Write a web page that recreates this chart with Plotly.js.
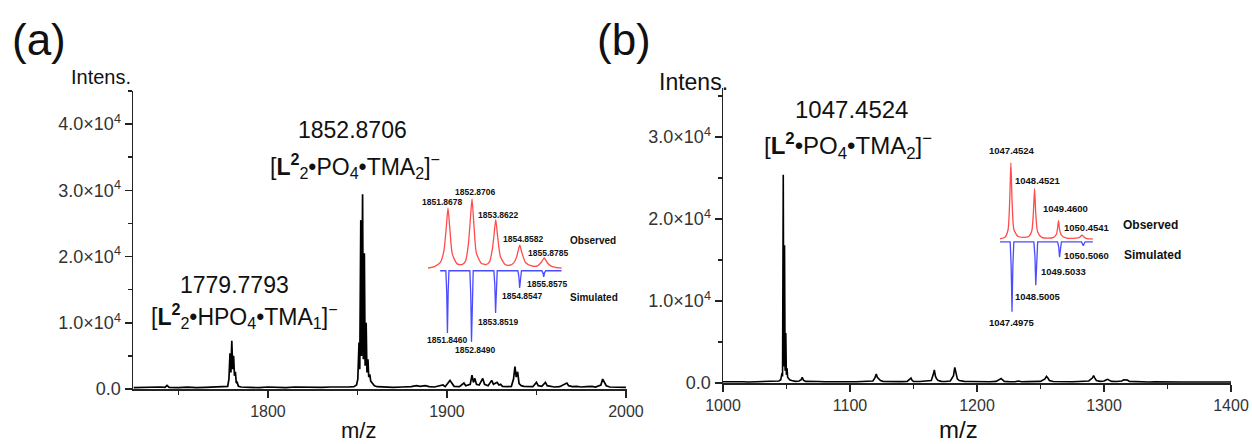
<!DOCTYPE html>
<html>
<head>
<meta charset="utf-8">
<script src="https://cdn.plot.ly/plotly-3.0.1.min.js"></script>
<style>html,body{margin:0;padding:0;background:#fff;}#chart{width:1252px;height:444px;}</style>
</head>
<body>
<div id="chart"></div>
<script>
// ---------- DATA ----------
// Panel (a) full spectrum (m/z, intensity)
const specA_mz = [1725,1730,1735,1740,1742.5,1743.6,1744.8,1750,1755,1760,1765,1770,1775,1777.5,1778.2,1778.8,1779.3,1779.8,1780.3,1780.8,1781.3,1781.8,1782.3,1782.8,1783.5,1785,1790,1795,1800,1805,1810,1815,1820,1825,1830,1835,1840,1845,1848,1849.5,1850.2,1850.87,1851.3,1851.87,1852.3,1852.87,1853.3,1853.86,1854.3,1854.86,1855.3,1855.88,1856.3,1856.9,1857.4,1857.9,1858.5,1859.5,1861,1865,1870,1875,1880,1883,1885,1888,1890,1893,1897.8,1899,1900.7,1901.7,1902.7,1904,1907,1909.5,1910.5,1913,1914,1914.8,1915.6,1916.5,1918,1920,1921,1923,1925,1926,1928,1929,1930,1931,1934,1936,1937.2,1938,1938.7,1939.5,1940.3,1941.5,1943,1945,1948,1950,1951,1953,1955,1956,1958,1960,1963,1967,1968,1970,1972.6,1975,1978,1981,1983,1986,1987,1988,1989,1991,1995,2000];
const specA_int = [200,250,200,300,250,550,250,200,280,200,250,300,300,400,1500,5400,2500,7300,3000,5000,2000,2600,900,1000,400,300,250,200,300,250,200,300,250,200,250,300,250,300,350,600,1500,7000,3000,25500,5000,29400,4500,20500,3500,10000,2500,4500,1800,2200,1200,1000,700,500,350,300,250,300,350,500,400,500,350,300,600,350,900,1300,900,400,350,900,500,700,2100,1000,1600,700,600,1600,700,500,1300,700,1000,600,700,400,350,400,1500,3400,1800,2600,800,500,400,350,350,1000,500,400,1000,500,400,300,350,900,500,350,400,300,350,400,300,600,1500,900,500,300,250,250];

// Panel (b) full spectrum
const specB_mz = [1000,1005,1010,1015,1020,1025,1030,1035,1040,1044,1045.5,1046.45,1046.9,1047.45,1047.9,1048.45,1048.9,1049.45,1049.9,1050.45,1050.9,1051.5,1052.5,1054,1057,1060,1061.5,1062.4,1063.3,1065,1070,1075,1080,1085,1090,1095,1100,1105,1110,1115,1118,1119.5,1120.7,1121.5,1122.5,1124,1126,1130,1135,1140,1145,1147,1148,1149,1150,1155,1160,1164,1165.5,1166.4,1167.3,1168.2,1169.5,1172,1175,1179,1181.5,1182.5,1183.5,1184.5,1186,1190,1195,1200,1205,1210,1215,1218,1219,1220,1221.5,1225,1230,1232.7,1235,1240,1245,1250,1253.5,1254.7,1255.8,1257,1260,1265,1270,1275,1280,1285,1288,1290.8,1291.8,1292.8,1294,1297,1300,1302,1303,1304,1306,1310,1314,1315.5,1317,1318.5,1320,1325,1330,1335,1340,1345,1350,1360,1370,1380,1390,1400];
const specB_int = [150,120,180,150,130,160,150,180,200,250,400,1200,800,25400,2000,16800,1500,6100,1000,1800,700,600,400,300,200,250,400,700,350,200,150,180,150,170,150,180,160,150,180,200,250,600,1100,700,500,300,200,180,150,170,200,400,600,300,200,180,200,300,1000,1600,800,500,300,200,180,250,900,1900,1200,500,300,200,180,150,170,150,200,400,550,400,200,170,160,250,150,170,160,200,500,800,600,300,180,150,170,150,180,200,250,600,900,600,300,200,250,400,450,350,200,180,250,400,400,350,200,160,150,130,150,120,140,120,130,110,140,120];

// Inset (a): observed isotope pattern (relative) and simulated (relative, drawn downward)
const insA_obs_mz = [1851.04,1851.3,1851.55,1851.7,1851.8,1851.87,1851.95,1852.05,1852.25,1852.45,1852.6,1852.72,1852.8,1852.87,1852.95,1853.05,1853.25,1853.45,1853.6,1853.72,1853.8,1853.86,1853.94,1854.05,1854.25,1854.45,1854.6,1854.72,1854.8,1854.86,1854.95,1855.1,1855.35,1855.6,1855.75,1855.88,1856.0,1856.15,1856.35,1856.6];
const insA_obs_int = [0,2,8,25,60,87,55,20,6,5,10,35,70,100,62,22,7,5,9,28,52,70,45,17,5,4,7,15,26,33,22,8,3,3,8,14.5,8,3,1,0];
const insA_sim_mz = [1851.54,1851.78,1851.815,1851.846,1851.877,1851.91,1852.78,1852.818,1852.849,1852.88,1852.92,1853.78,1853.82,1853.852,1853.884,1853.92,1854.78,1854.823,1854.855,1854.887,1854.93,1855.78,1855.825,1855.858,1855.89,1855.94,1856.6];
const insA_sim_int = [0,0,30,90,30,0,0,35,103,35,0,0,20,61,20,0,0,8,25,8,0,0,3,9,3,0,0];

// Inset (b)
const insB_obs_mz = [1046.99,1047.2,1047.33,1047.4,1047.45,1047.5,1047.58,1047.75,1047.95,1048.2,1048.33,1048.4,1048.45,1048.5,1048.58,1048.75,1049.0,1049.25,1049.37,1049.42,1049.46,1049.5,1049.58,1049.8,1050.2,1050.35,1050.45,1050.55,1050.7,1050.91];
const insB_obs_int = [0,2,12,50,100,50,12,3,2,3,10,35,66,33,9,2,1,2,6,14,24,13,5,1,1,2,5,2,0,0];
const insB_sim_mz = [1046.99,1047.42,1047.46,1047.4975,1047.535,1047.575,1048.42,1048.465,1048.5005,1048.535,1048.58,1049.42,1049.47,1049.5033,1049.537,1049.58,1050.43,1050.475,1050.506,1050.54,1050.58,1050.91];
const insB_sim_int = [0,0,30,92,30,0,0,19,57,19,0,0,7,20,7,0,0,2,5,2,0,0];

// Tick labels
const yTickValsA = [0,10000,20000,30000,40000];
const yTickTextA = ["0.0","1.0×10<sup>4</sup>","2.0×10<sup>4</sup>","3.0×10<sup>4</sup>","4.0×10<sup>4</sup>"];
const yTickValsB = [0,10000,20000,30000];
const yTickTextB = ["0.0","1.0×10<sup>4</sup>","2.0×10<sup>4</sup>","3.0×10<sup>4</sup>"];

// Peak labels
const insA_obs_labels = ["1851.8678","1852.8706","1853.8622","1854.8582","1855.8785"];
const insA_sim_labels = ["1851.8460","1852.8490","1853.8519","1854.8547","1855.8575"];
const insB_obs_labels = ["1047.4524","1048.4521","1049.4600","1050.4541"];
const insB_sim_labels = ["1047.4975","1048.5005","1049.5033","1050.5060"];

// ---------- LAYOUT HELPERS ----------
const W = 1252, H = 444;
const fx = x => x / W;
const fy = y => 1 - y / H;
const FONT = "Liberation Sans, Arial, Helvetica, sans-serif";
const simOffA = 4, simOffB = 4;

const traces = [
  {x: specA_mz, y: specA_int, xaxis:'x', yaxis:'y', type:'scatter', mode:'lines', line:{color:'#000', width:1.7}, hoverinfo:'skip'},
  {x: specB_mz, y: specB_int, xaxis:'x2', yaxis:'y2', type:'scatter', mode:'lines', line:{color:'#000', width:1.6}, hoverinfo:'skip'},
  {x: insA_obs_mz, y: insA_obs_int, xaxis:'x3', yaxis:'y3', type:'scatter', mode:'lines', line:{color:'rgb(255,75,75)', width:1.3, shape:'spline', smoothing:0.6}, hoverinfo:'skip'},
  {x: insA_sim_mz, y: insA_sim_int.map(v => -simOffA - v), xaxis:'x3', yaxis:'y3', type:'scatter', mode:'lines', line:{color:'rgb(75,75,255)', width:1.3}, hoverinfo:'skip'},
  {x: insB_obs_mz, y: insB_obs_int, xaxis:'x4', yaxis:'y4', type:'scatter', mode:'lines', line:{color:'rgb(255,75,75)', width:1.3, shape:'spline', smoothing:0.6}, hoverinfo:'skip'},
  {x: insB_sim_mz, y: insB_sim_int.map(v => -simOffB - v), xaxis:'x4', yaxis:'y4', type:'scatter', mode:'lines', line:{color:'rgb(75,75,255)', width:1.3}, hoverinfo:'skip'}
];

const axCommon = {
  showline:true, linecolor:'#222', linewidth:1.5, showgrid:false, zeroline:false,
  ticks:'outside', ticklen:7, tickwidth:1.5, tickcolor:'#222',
  tickfont:{family:FONT, size:16, color:'#333'}
};

function ann(text, x, y, size, opts) {
  return Object.assign({text:text, x:fx(x), y:fy(y), xref:'paper', yref:'paper', showarrow:false,
    xanchor:'center', yanchor:'middle', font:{family:FONT, size:size, color:'#111'}}, opts || {});
}

const annotations = [
  ann("(a)", 39, 40, 44),
  ann("(b)", 624, 40, 44),
  ann("Intens.", 133, 77, 20, {xanchor:'right'}),
  ann("Intens.", 730, 82, 23, {xanchor:'right'}),
  ann("m/z", 358, 430, 22),
  ann("m/z", 958, 429, 24),
  ann("1852.8706", 352, 130, 23),
  ann("[<b>L</b><sup><b>2</b></sup><sub>2</sub>•PO<sub>4</sub>•TMA<sub>2</sub>]<sup>−</sup>", 355, 166, 23),
  ann("1779.7793", 234, 285, 23),
  ann("[<b>L</b><sup><b>2</b></sup><sub>2</sub>•HPO<sub>4</sub>•TMA<sub>1</sub>]<sup>−</sup>", 244, 316, 23),
  ann("1047.4524", 851, 109, 24),
  ann("[<b>L</b><sup><b>2</b></sup>•PO<sub>4</sub>•TMA<sub>2</sub>]<sup>−</sup>", 848, 146, 24),
  // inset (a) labels
  ann("<b>"+insA_obs_labels[0]+"</b>", 442, 202, 8.5),
  ann("<b>"+insA_obs_labels[1]+"</b>", 475, 192, 8.5),
  ann("<b>"+insA_obs_labels[2]+"</b>", 498, 215, 8.5),
  ann("<b>"+insA_obs_labels[3]+"</b>", 523, 239, 8.5),
  ann("<b>"+insA_obs_labels[4]+"</b>", 548, 253, 8.5),
  ann("<b>"+insA_sim_labels[0]+"</b>", 447, 340, 8.5),
  ann("<b>"+insA_sim_labels[1]+"</b>", 475, 350, 8.5),
  ann("<b>"+insA_sim_labels[2]+"</b>", 498, 322, 8.5),
  ann("<b>"+insA_sim_labels[3]+"</b>", 522, 296, 8.5),
  ann("<b>"+insA_sim_labels[4]+"</b>", 547, 284, 8.5),
  ann("<b>Observed</b>", 568, 240, 10, {xanchor:'left'}),
  ann("<b>Simulated</b>", 568, 297, 10, {xanchor:'left'}),
  // inset (b) labels
  ann("<b>"+insB_obs_labels[0]+"</b>", 1012, 150, 9.5),
  ann("<b>"+insB_obs_labels[1]+"</b>", 1038, 181, 9.5),
  ann("<b>"+insB_obs_labels[2]+"</b>", 1065, 209, 9.5),
  ann("<b>"+insB_obs_labels[3]+"</b>", 1087, 227, 9.5),
  ann("<b>"+insB_sim_labels[0]+"</b>", 1012, 322, 9.5),
  ann("<b>"+insB_sim_labels[1]+"</b>", 1038, 296, 9.5),
  ann("<b>"+insB_sim_labels[2]+"</b>", 1063, 271, 9.5),
  ann("<b>"+insB_sim_labels[3]+"</b>", 1086, 255, 9.5),
  ann("<b>Observed</b>", 1121, 225, 12, {xanchor:'left'}),
  ann("<b>Simulated</b>", 1122, 255, 12, {xanchor:'left'})
];

const hidden = {visible:false, showgrid:false, zeroline:false, fixedrange:true};

const layout = {
  width:W, height:H, autosize:false,
  margin:{l:0, r:0, t:0, b:0, pad:0},
  paper_bgcolor:'#fff', plot_bgcolor:'rgba(0,0,0,0)',
  showlegend:false,
  font:{family:FONT, color:'#222'},
  xaxis: Object.assign({}, axCommon, {domain:[fx(133), fx(627)], range:[1724.6, 2000.6], anchor:'y',
    tickmode:'array', tickvals:[1800,1900,2000],
    minor:{tickmode:'array', tickvals:[1750,1850,1950], ticks:'outside', ticklen:4, tickwidth:1.5, tickcolor:'#222'}}),
  yaxis: Object.assign({}, axCommon, {domain:[fy(389), fy(91)], range:[0, 45000], anchor:'x',
    tickmode:'array', tickvals:yTickValsA, ticktext:yTickTextA, tickfont:{family:FONT, size:18, color:'#333'},
    minor:{tickmode:'array', tickvals:[5000,15000,25000,35000,45000], ticks:'outside', ticklen:4, tickwidth:1.5, tickcolor:'#222'}}),
  xaxis2: Object.assign({}, axCommon, {domain:[fx(723), fx(1231)], range:[1000, 1400], anchor:'y2',
    tickmode:'array', tickvals:[1000,1100,1200,1300,1400],
    minor:{tickmode:'array', tickvals:[1050,1150,1250,1350], ticks:'outside', ticklen:4, tickwidth:1.5, tickcolor:'#222'}}),
  yaxis2: Object.assign({}, axCommon, {domain:[fy(383), fy(88)], range:[0, 36000], anchor:'x2',
    tickmode:'array', tickvals:yTickValsB, ticktext:yTickTextB, tickfont:{family:FONT, size:18, color:'#333'},
    minor:{tickmode:'array', tickvals:[5000,15000,25000,35000], ticks:'outside', ticklen:4, tickwidth:1.5, tickcolor:'#222'}}),
  xaxis3: Object.assign({}, hidden, {domain:[fx(420), fx(570)], range:[1850.703, 1856.953], anchor:'y3'}),
  yaxis3: Object.assign({}, hidden, {domain:[fy(350), fy(190)], range:[-118.8, 113.0], anchor:'x3'}),
  xaxis4: Object.assign({}, hidden, {domain:[fx(995), fx(1100)], range:[1046.78, 1051.21], anchor:'y4'}),
  yaxis4: Object.assign({}, hidden, {domain:[fy(330), fy(150)], range:[-120, 117], anchor:'x4'}),
  annotations: annotations
};

Plotly.newPlot('chart', traces, layout, {displayModeBar:false, staticPlot:true});
</script>
</body>
</html>
